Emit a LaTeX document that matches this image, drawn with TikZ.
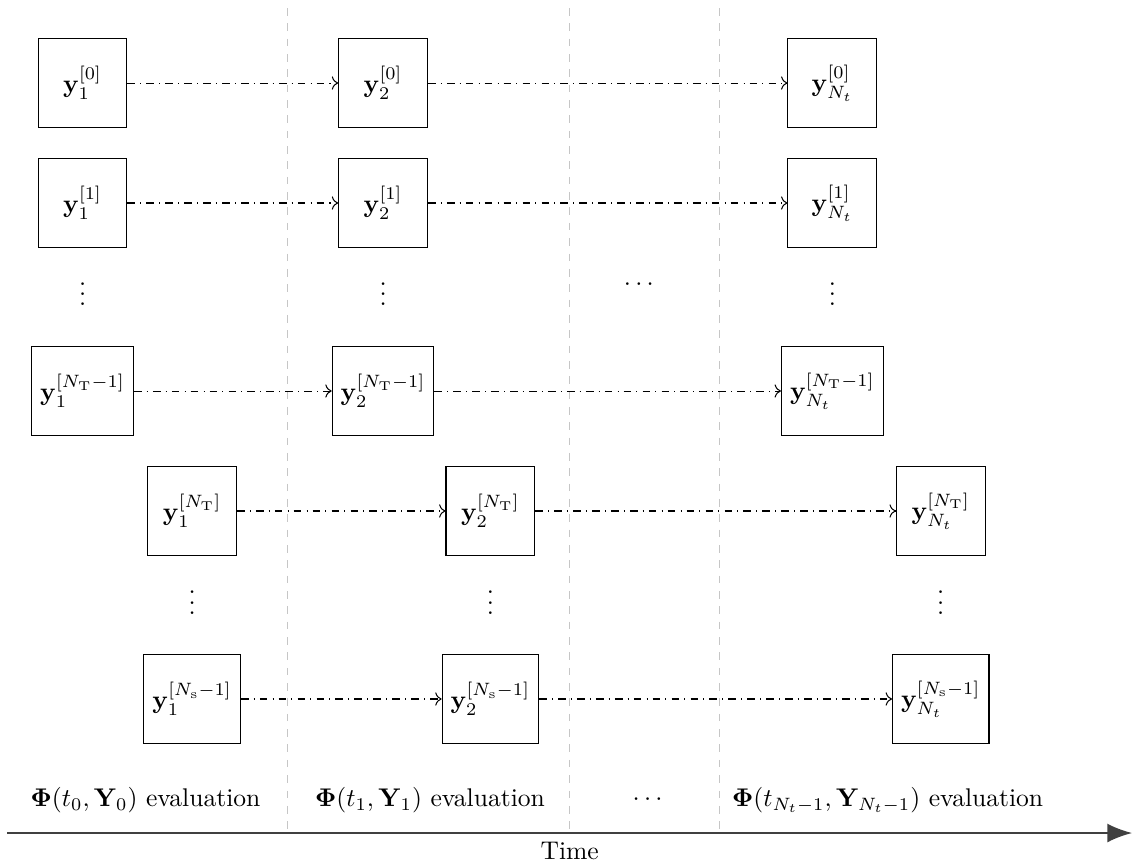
\documentclass[tikz,border=0pt]{standalone}
\usepackage{amsmath,amssymb,bm}
\usetikzlibrary{arrows.meta,positioning}

\begin{document}
\begin{tikzpicture}
			\tikzset{
				state/.style={
					draw,
					minimum size=1.22cm,
					anchor=center
				},
				pass/.style={dash dot, ->},
				slice/.style={gray!45, dashed}
			}
			\useasboundingbox (0,0) rectangle (15.6,-11.916);
			% time slices
			\coordinate (s1a) at (3.958,-0.11);
			\coordinate (s1b) at (3.958,-11.449);
			\coordinate (s2a) at (7.834,-0.11);
			\coordinate (s2b) at (7.834,-11.449);
			\coordinate (s3a) at (9.895,-0.11);
			\coordinate (s3b) at (9.895,-11.449);
			\draw[slice] (s1a) -- (s1b) (s2a) -- (s2b) (s3a) -- (s3b);
			% first step
			\node[state] (y1-0) at (1.135,-1.141) {$\mathbf{y}_1^{[0]}$};
			\node[state] (y1-1) at (1.135,-2.790) {$\mathbf{y}_1^{[1]}$};
			\node (y1-d) at (1.135,-3.94) {$\vdots$};
			\node[state] (y1-T) at (1.135,-5.374) {$\mathbf{y}_1^{[N_\mathrm{T}-1]}$};
			\node[state] (y1-U) at (2.64,-7.023) {$\mathbf{y}_1^{[N_\mathrm{T}]}$};
			\node (y1-e) at (2.64,-8.18) {$\vdots$};
			\node[state] (y1-S) at (2.64,-9.607) {$\mathbf{y}_1^{[N_\mathrm{s}-1]}$};
			% second step
			\node[state] (y2-0) at (5.265,-1.141) {$\mathbf{y}_2^{[0]}$};
			\node[state] (y2-1) at (5.265,-2.790) {$\mathbf{y}_2^{[1]}$};
			\node (y2-d) at (5.265,-3.94) {$\vdots$};
			\node[state] (y2-T) at (5.265,-5.374) {$\mathbf{y}_2^{[N_\mathrm{T}-1]}$};
			\node[state] (y2-U) at (6.74,-7.023) {$\mathbf{y}_2^{[N_\mathrm{T}]}$};
			\node (y2-e) at (6.74,-8.18) {$\vdots$};
			\node[state] (y2-S) at (6.74,-9.607) {$\mathbf{y}_2^{[N_\mathrm{s}-1]}$};
			% last step
			\node (mid) at (8.81,-3.917) {$\cdots$};
			\node[state] (yN-0) at (11.44,-1.141) {$\mathbf{y}_{N_t}^{[0]}$};
			\node[state] (yN-1) at (11.44,-2.790) {$\mathbf{y}_{N_t}^{[1]}$};
			\node (yN-d) at (11.44,-3.94) {$\vdots$};
			\node[state] (yN-T) at (11.44,-5.374) {$\mathbf{y}_{N_t}^{[N_\mathrm{T}-1]}$};
			\node[state] (yN-U) at (12.93,-7.023) {$\mathbf{y}_{N_t}^{[N_\mathrm{T}]}$};
			\node (yN-e) at (12.93,-8.18) {$\vdots$};
			\node[state] (yN-S) at (12.93,-9.607) {$\mathbf{y}_{N_t}^{[N_\mathrm{s}-1]}$};
			% propagation
			\draw[pass] (y1-0) -- (y2-0);
			\draw[pass] (y1-1) -- (y2-1);
			\draw[pass] (y1-T) -- (y2-T);
			\draw[pass] (y1-U) -- (y2-U);
			\draw[pass] (y1-S) -- (y2-S);
			\draw[pass] (y2-0) -- (yN-0);
			\draw[pass] (y2-1) -- (yN-1);
			\draw[pass] (y2-T) -- (yN-T);
			\draw[pass] (y2-U) -- (yN-U);
			\draw[pass] (y2-S) -- (yN-S);
			% evaluations
			\node (ev1) at (2.0,-10.995) {$\boldsymbol{\Phi}(t_0,\mathbf{Y}_0)$ evaluation};
			\node (ev2) at (5.91,-10.995) {$\boldsymbol{\Phi}(t_1,\mathbf{Y}_1)$ evaluation};
			\node (evd) at (8.93,-10.995) {$\cdots$};
			\node (evN) at (12.2,-10.995) {$\boldsymbol{\Phi}(t_{N_t-1},\mathbf{Y}_{N_t-1})$ evaluation};
			% time axis
			\coordinate (t0) at (0.1,-11.449);
			\coordinate (t1) at (15.56,-11.449);
			\draw[thick, black!75, -{Latex[length=3.4mm,width=2.6mm]}] (t0) -- (t1) node[midway, below, black] {Time};
		\end{tikzpicture}
\end{document}
